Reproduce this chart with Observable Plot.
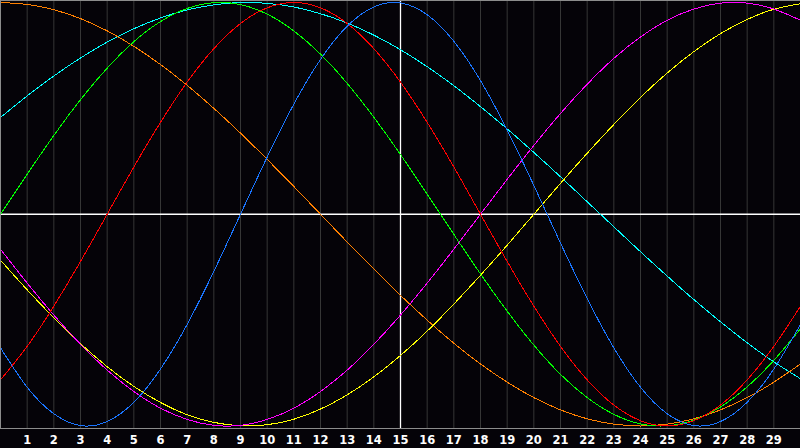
<!DOCTYPE html>
<html>
<head>
<meta charset="utf-8">
<script src="https://cdn.jsdelivr.net/npm/d3@7"></script>
<script src="https://cdn.jsdelivr.net/npm/@observablehq/plot@0.6"></script>
<style>
  html, body { margin: 0; padding: 0; background: #050308; }
  #chart svg { display: block; }
</style>
</head>
<body>
<div id="chart"></div>
<script>
// Days along the x axis (0..30) and the labelled days
const days = [0,1,2,3,4,5,6,7,8,9,10,11,12,13,14,15,16,17,18,19,20,21,22,23,24,25,26,27,28,29,30];
const labelDays = [1,2,3,4,5,6,7,8,9,10,11,12,13,14,15,16,17,18,19,20,21,22,23,24,25,26,27,28,29];
const centerDay = [15];

// Series values (one value per day)
const physical = [-0.631,-0.817,-0.942,-0.998,-0.979,-0.888,-0.731,-0.520,-0.270,0,0.270,0.520,0.731,0.888,0.979,0.998,0.942,0.817,0.631,0.398,0.136,-0.136,-0.398,-0.631,-0.817,-0.942,-0.998,-0.979,-0.888,-0.731,-0.520];
const emotional = [-0.782,-0.624,-0.434,-0.223,0,0.223,0.434,0.624,0.782,0.901,0.975,1,0.975,0.901,0.782,0.624,0.434,0.223,0,-0.223,-0.434,-0.624,-0.782,-0.901,-0.975,-1,-0.975,-0.901,-0.782,-0.624,-0.434];
const intellectual = [0,0.189,0.372,0.541,0.690,0.815,0.910,0.972,0.999,0.990,0.945,0.866,0.756,0.618,0.458,0.282,0.095,-0.095,-0.282,-0.458,-0.618,-0.756,-0.866,-0.945,-0.990,-0.999,-0.972,-0.910,-0.815,-0.690,-0.541];
const intuitive = [-0.165,-0.325,-0.476,-0.614,-0.736,-0.837,-0.916,-0.969,-0.997,-0.997,-0.969,-0.916,-0.837,-0.736,-0.614,-0.476,-0.325,-0.165,0,0.165,0.325,0.476,0.614,0.736,0.837,0.916,0.969,0.997,0.997,0.969,0.916];
const aesthetic = [-0.217,-0.357,-0.489,-0.611,-0.720,-0.813,-0.889,-0.947,-0.983,-0.999,-0.994,-0.968,-0.920,-0.853,-0.768,-0.667,-0.552,-0.424,-0.288,-0.146,0,0.146,0.288,0.424,0.552,0.667,0.768,0.853,0.920,0.968,0.994];
const awareness = [1,0.991,0.966,0.924,0.866,0.793,0.707,0.609,0.5,0.383,0.259,0.131,0,-0.131,-0.259,-0.383,-0.5,-0.609,-0.707,-0.793,-0.866,-0.924,-0.966,-0.991,-1,-0.991,-0.966,-0.924,-0.866,-0.793,-0.707];
const spiritual = [0.457,0.559,0.653,0.738,0.813,0.876,0.927,0.965,0.989,1.000,0.996,0.979,0.947,0.903,0.846,0.777,0.697,0.607,0.508,0.403,0.292,0.177,0.059,-0.059,-0.177,-0.292,-0.403,-0.508,-0.607,-0.697,-0.777];

const seriesNames = ["Spiritual","Awareness","Aesthetic","Intuitive","Intellectual","Emotional","Physical"];
const seriesValues = [spiritual, awareness, aesthetic, intuitive, intellectual, emotional, physical];
const seriesColors = ["#00ffff","#ff8000","#ffff00","#ff00ff","#00ff00","#ff0000","#1a75ff"];

const table = [];
seriesNames.forEach((name, i) => {
  days.forEach((d, j) => table.push({name, day: d, value: seriesValues[i][j]}));
});

const chart = Plot.plot({
  width: 800,
  height: 448,
  marginTop: 0,
  marginRight: 0,
  marginBottom: 20,
  marginLeft: 0,
  style: {background: "#050308", color: "#ffffff", fontFamily: "DejaVu Sans"},
  x: {domain: [0, 30], range: [0, 800]},
  y: {domain: [-1, 1], range: [425.5, 2], axis: null},
  color: {domain: seriesNames, range: seriesColors},
  marks: [
    Plot.ruleX(labelDays, {stroke: "#363636", strokeWidth: 1}),
    Plot.ruleY([0], {stroke: "#ffffff", strokeWidth: 1.3}),
    Plot.ruleX(centerDay, {stroke: "#ffffff", strokeWidth: 1.3}),
    Plot.line(table, {x: "day", y: "value", z: "name", stroke: "name", curve: "natural", strokeWidth: 1, shapeRendering: "crispEdges"}),
    Plot.axisX(labelDays, {tickSize: 0, tickPadding: 7, fontSize: 11.5, fontWeight: "bold", fill: "#ffffff", label: null}),
    Plot.frame({anchor: "left", stroke: "#8c8c8c"}),
    Plot.frame({anchor: "top", stroke: "#8c8c8c"}),
    Plot.frame({anchor: "bottom", stroke: "#8c8c8c"})
  ]
});
document.getElementById("chart").appendChild(chart);
</script>
</body>
</html>
